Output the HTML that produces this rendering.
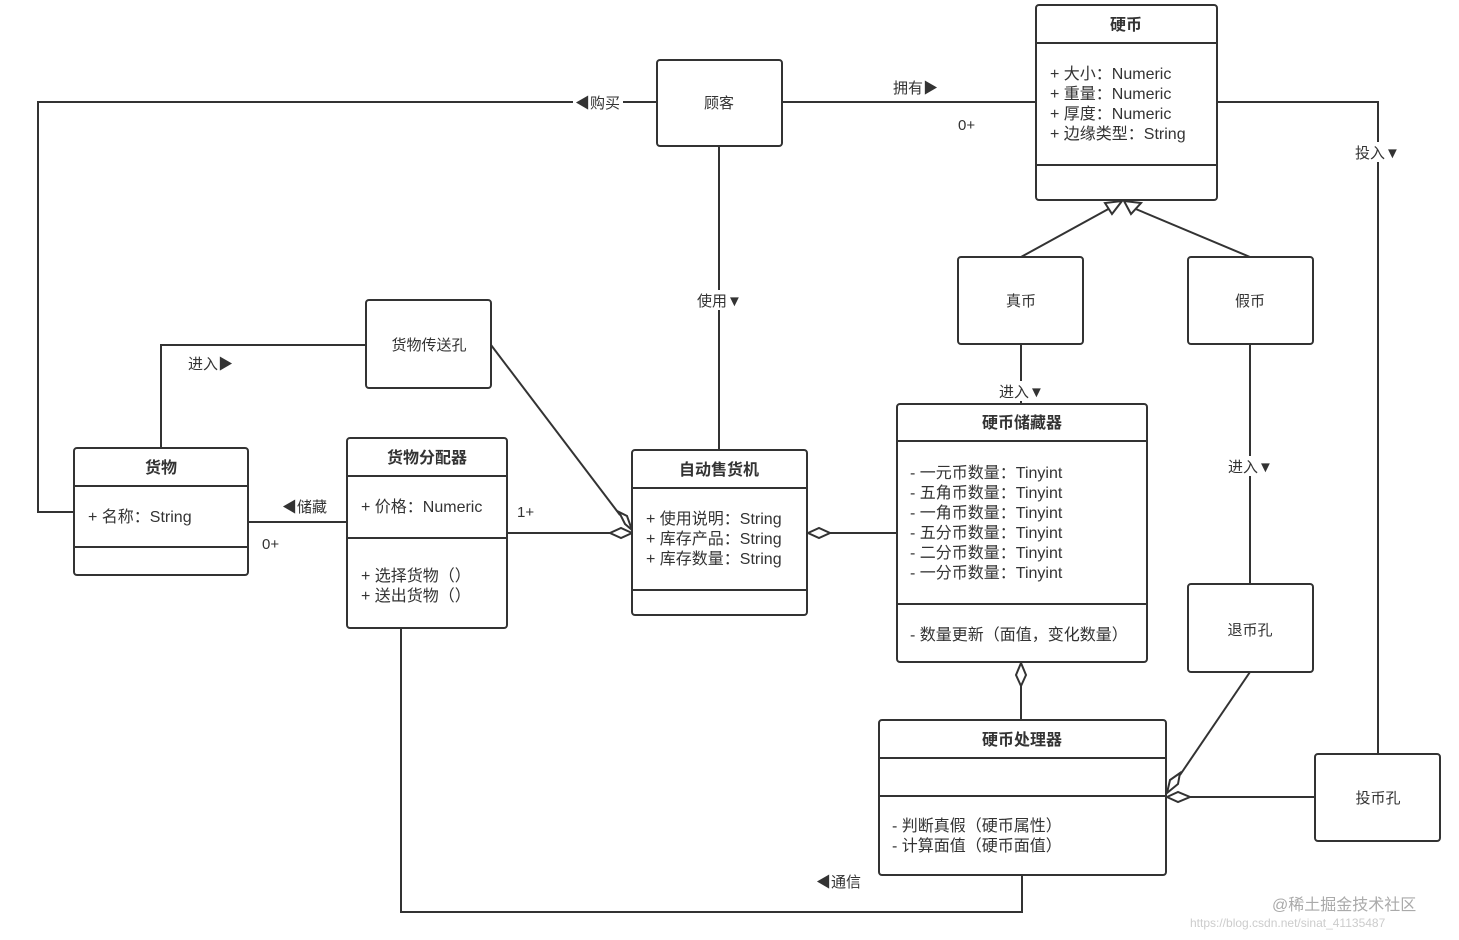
<!DOCTYPE html>
<html><head><meta charset="utf-8"><style>
html,body{margin:0;padding:0;background:#fff;}
svg{display:block;}
text{font-family:"Liberation Sans","Noto Sans CJK SC",sans-serif;font-size:15px;fill:#333;}
.h{font-weight:bold;font-size:16px;text-anchor:middle;}
.c{text-anchor:middle;}
.a{font-size:16px;}
.b{fill:#fff;stroke:#333;stroke-width:2;}
.l{fill:none;stroke:#333;stroke-width:2;}
</style></head><body>
<svg width="1459" height="940" viewBox="0 0 1459 940">
<polyline class="l" points="657,102 38,102 38,512 74,512"/>
<line class="l" x1="782" y1="102" x2="1036" y2="102"/>
<line class="l" x1="719" y1="146" x2="719" y2="450"/>
<polyline class="l" points="1217,102 1378,102 1378,754"/>
<line class="l" x1="1021" y1="257" x2="1112" y2="207"/>
<line class="l" x1="1250" y1="257" x2="1131" y2="207"/>
<polygon class="b" points="1122,201 1105,203 1112,214"/>
<polygon class="b" points="1124,201 1141,203 1131,214"/>
<line class="l" x1="1021" y1="344" x2="1021" y2="404"/>
<line class="l" x1="1250" y1="344" x2="1250" y2="584"/>
<polyline class="l" points="366,345 161,345 161,448"/>
<line class="l" x1="491" y1="345" x2="620" y2="515"/>
<polygon class="b" points="632,530 625,524 619,512 627,516"/>
<line class="l" x1="248" y1="522" x2="347" y2="522"/>
<line class="l" x1="507" y1="533" x2="610" y2="533"/>
<polygon class="b" points="632,533 621,528 610,533 621,538"/>
<line class="l" x1="897" y1="533" x2="830" y2="533"/>
<polygon class="b" points="808,533 819,528 830,533 819,538"/>
<line class="l" x1="1021" y1="686" x2="1021" y2="720"/>
<polygon class="b" points="1021,663 1016,675 1021,686 1026,675"/>
<line class="l" x1="1250" y1="672" x2="1180" y2="775"/>
<polygon class="b" points="1167,793 1170,780 1180,773 1178,784"/>
<line class="l" x1="1315" y1="797" x2="1190" y2="797"/>
<polygon class="b" points="1167,797 1178,792 1190,797 1178,802"/>
<polyline class="l" points="401,628 401,912 1022,912 1022,875"/>
<rect x="573" y="92" width="50" height="20" fill="#fff"/>
<text x="575" y="108">◀购买</text>
<text x="893" y="93">拥有▶</text>
<text x="958" y="130">0+</text>
<rect x="695" y="290" width="50" height="20" fill="#fff"/>
<text x="697" y="306">使用▼</text>
<rect x="1353" y="142" width="50" height="20" fill="#fff"/>
<text x="1355" y="158">投入▼</text>
<rect x="997" y="381" width="50" height="20" fill="#fff"/>
<text x="999" y="397">进入▼</text>
<rect x="1226" y="456" width="50" height="20" fill="#fff"/>
<text x="1228" y="472">进入▼</text>
<text x="188" y="369">进入▶</text>
<text x="282" y="512">◀储藏</text>
<text x="262" y="549">0+</text>
<text x="517" y="517">1+</text>
<text x="816" y="887">◀通信</text>
<text x="1272" y="910" style="fill:#aaa;font-size:16px">@稀土掘金技术社区</text>
<text x="1190" y="927" style="fill:#ccc;font-size:12px">https://blog.csdn.net/sinat_41135487</text>

<rect class="b" x="1036" y="5" width="181" height="195" rx="3"/>
<line class="l" x1="1036" y1="43" x2="1217" y2="43"/>
<line class="l" x1="1036" y1="165" x2="1217" y2="165"/>
<text class="h" x="1126" y="30">硬币</text>
<text class="a" x="1050" y="79">+ 大小：Numeric</text>
<text class="a" x="1050" y="99">+ 重量：Numeric</text>
<text class="a" x="1050" y="119">+ 厚度：Numeric</text>
<text class="a" x="1050" y="139">+ 边缘类型：String</text>

<rect class="b" x="657" y="60" width="125" height="86" rx="3"/>
<text class="c" x="719" y="108">顾客</text>
<rect class="b" x="958" y="257" width="125" height="87" rx="3"/>
<text class="c" x="1021" y="306">真币</text>
<rect class="b" x="1188" y="257" width="125" height="87" rx="3"/>
<text class="c" x="1250" y="306">假币</text>
<rect class="b" x="366" y="300" width="125" height="88" rx="3"/>
<text class="c" x="429" y="350">货物传送孔</text>
<rect class="b" x="1188" y="584" width="125" height="88" rx="3"/>
<text class="c" x="1250" y="635">退币孔</text>
<rect class="b" x="1315" y="754" width="125" height="87" rx="3"/>
<text class="c" x="1378" y="803">投币孔</text>

<rect class="b" x="74" y="448" width="174" height="127" rx="3"/>
<line class="l" x1="74" y1="486" x2="248" y2="486"/>
<line class="l" x1="74" y1="547" x2="248" y2="547"/>
<text class="h" x="161" y="473">货物</text>
<text class="a" x="88" y="522">+ 名称：String</text>

<rect class="b" x="347" y="438" width="160" height="190" rx="3"/>
<line class="l" x1="347" y1="476" x2="507" y2="476"/>
<line class="l" x1="347" y1="538" x2="507" y2="538"/>
<text class="h" x="427" y="463">货物分配器</text>
<text class="a" x="361" y="512">+ 价格：Numeric</text>
<text class="a" x="361" y="581">+ 选择货物（）</text>
<text class="a" x="361" y="601">+ 送出货物（）</text>

<rect class="b" x="632" y="450" width="175" height="165" rx="3"/>
<line class="l" x1="632" y1="488" x2="807" y2="488"/>
<line class="l" x1="632" y1="590" x2="807" y2="590"/>
<text class="h" x="719" y="475">自动售货机</text>
<text class="a" x="646" y="524">+ 使用说明：String</text>
<text class="a" x="646" y="544">+ 库存产品：String</text>
<text class="a" x="646" y="564">+ 库存数量：String</text>

<rect class="b" x="897" y="404" width="250" height="258" rx="3"/>
<line class="l" x1="897" y1="441" x2="1147" y2="441"/>
<line class="l" x1="897" y1="604" x2="1147" y2="604"/>
<text class="h" x="1022" y="428">硬币储藏器</text>
<text class="a" x="910" y="478">- 一元币数量：Tinyint</text>
<text class="a" x="910" y="498">- 五角币数量：Tinyint</text>
<text class="a" x="910" y="518">- 一角币数量：Tinyint</text>
<text class="a" x="910" y="538">- 五分币数量：Tinyint</text>
<text class="a" x="910" y="558">- 二分币数量：Tinyint</text>
<text class="a" x="910" y="578">- 一分币数量：Tinyint</text>
<text class="a" x="910" y="640">- 数量更新（面值，变化数量）</text>

<rect class="b" x="879" y="720" width="287" height="155" rx="3"/>
<line class="l" x1="879" y1="758" x2="1166" y2="758"/>
<line class="l" x1="879" y1="796" x2="1166" y2="796"/>
<text class="h" x="1022" y="745">硬币处理器</text>
<text class="a" x="892" y="831">- 判断真假（硬币属性）</text>
<text class="a" x="892" y="851">- 计算面值（硬币面值）</text>
</svg>
</body></html>
